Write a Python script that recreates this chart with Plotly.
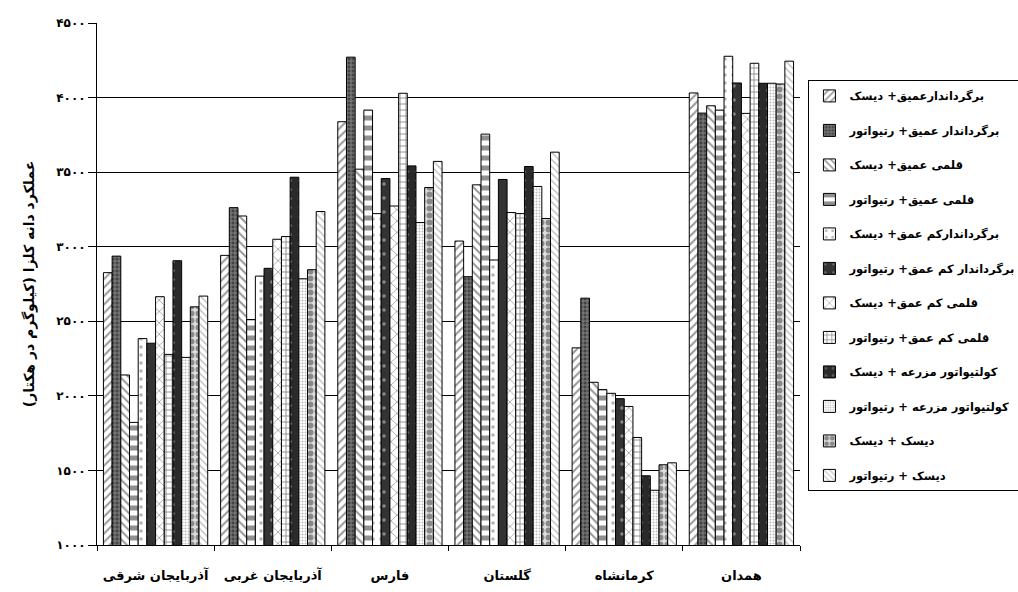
import plotly.graph_objects as go

provinces = ["آذربایجان شرقی", "آذربایجان غربی", "فارس", "گلستان", "کرمانشاه", "همدان"]

treatments = [
    "برگرداندارعمیق+ دیسک",
    "برگرداندار عمیق+ رتیواتور",
    "قلمی عمیق+ دیسک",
    "قلمی عمیق+ رتیواتور",
    "برگرداندارکم عمق+ دیسک",
    "برگرداندار کم عمق+ رتیواتور",
    "قلمی کم عمق+ دیسک",
    "قلمی کم عمق+ رتیواتور",
    "کولتیواتور مزرعه + دیسک",
    "کولتیواتور مزرعه + رتیواتور",
    "دیسک + دیسک",
    "دیسک + رتیواتور",
]

# yield values (kg/ha) per treatment, ordered by province
t1 = [2826, 2942, 3838, 3038, 2322, 4031]
t2 = [2937, 3262, 4271, 2799, 2655, 3896]
t3 = [2140, 3206, 3520, 3415, 2091, 3945]
t4 = [1822, 2512, 3916, 3755, 2042, 3916]
t5 = [2384, 2803, 3222, 2911, 2017, 4277]
t6 = [2353, 2855, 3457, 3451, 1981, 4098]
t7 = [2665, 3050, 3273, 3229, 1929, 3894]
t8 = [2278, 3068, 4029, 3222, 1721, 4230]
t9 = [2906, 3466, 3542, 3538, 1464, 4096]
t10 = [2258, 2785, 3162, 3404, 1367, 4096]
t11 = [2597, 2846, 3397, 3189, 1538, 4091]
t12 = [2669, 3236, 3572, 3634, 1551, 4244]
series = [t1, t2, t3, t4, t5, t6, t7, t8, t9, t10, t11, t12]

tick_vals = [1000, 1500, 2000, 2500, 3000, 3500, 4000, 4500]
tick_text = ["۱۰۰۰", "۱۵۰۰", "۲۰۰۰", "۲۵۰۰", "۳۰۰۰", "۳۵۰۰", "۴۰۰۰", "۴۵۰۰"]

y_title = "عملکرد دانه کلزا (کیلوگرم در هکتار)"

patterns = [
    dict(shape="/", bgcolor="white", fgcolor="#333", size=6, solidity=0.35),
    dict(shape="+", bgcolor="#444", fgcolor="#ccc", size=4, solidity=0.4),
    dict(shape="\\", bgcolor="white", fgcolor="#333", size=6, solidity=0.35),
    dict(shape="-", bgcolor="white", fgcolor="#222", size=10, solidity=0.5),
    dict(shape=".", bgcolor="white", fgcolor="#666", size=8, solidity=0.15),
    dict(shape=".", bgcolor="#333", fgcolor="#ddd", size=14, solidity=0.05),
    dict(shape="x", bgcolor="white", fgcolor="#444", size=8, solidity=0.2),
    dict(shape="+", bgcolor="white", fgcolor="#222", size=6, solidity=0.3),
    dict(shape=".", bgcolor="#2a2a2a", fgcolor="#999", size=9, solidity=0.1),
    dict(shape=".", bgcolor="white", fgcolor="#777", size=3, solidity=0.35),
    dict(shape=".", bgcolor="#ddd", fgcolor="#333", size=7, solidity=0.55),
    dict(shape="\\", bgcolor="white", fgcolor="#888", size=5, solidity=0.3),
]

fig = go.Figure()
for i, (name, vals) in enumerate(zip(treatments, series)):
    fig.add_trace(go.Bar(
        x=provinces, y=vals, name=name,
        legendgroup=f"g{i}",
        marker=dict(color="white", line=dict(color="black", width=1),
                    pattern=patterns[i]),
    ))

fig.update_layout(
    width=1018, height=592,
    barmode="group", bargap=0.11, bargroupgap=0,
    paper_bgcolor="white", plot_bgcolor="rgba(0,0,0,0)",
    margin=dict(l=97, r=218, t=23, b=47, autoexpand=False),
    font=dict(family="DejaVu Sans", size=12, color="black"),
    showlegend=True,
    legend=dict(
        x=1.012, xanchor="left", y=0.89, yanchor="top",
        bordercolor="black", borderwidth=1, bgcolor="white",
        font=dict(family="DejaVu Sans", size=11.5, color="black", weight="bold"),
        tracegroupgap=15.5, traceorder="grouped", itemwidth=30,
    ),
    xaxis=dict(
        showline=True, linecolor="black", linewidth=1,
        ticks="outside", tickson="boundaries", ticklen=5, tickcolor="black",
        tickfont=dict(size=13, weight="bold"), ticklabelstandoff=18,
        tickangle=0, automargin=False,
        showgrid=False,
    ),
    yaxis=dict(
        range=[1000, 4500], tickvals=tick_vals, ticktext=tick_text,
        showline=True, linecolor="black", linewidth=1,
        ticks="outside", ticklen=8, tickcolor="black",
        showgrid=True, gridcolor="black", gridwidth=1,
        tickfont=dict(size=12, weight="bold"), automargin=False,
        title=dict(text=y_title, font=dict(size=14, weight="bold"), standoff=18),
        zeroline=False,
    ),
)

fig.write_html("out.html")
